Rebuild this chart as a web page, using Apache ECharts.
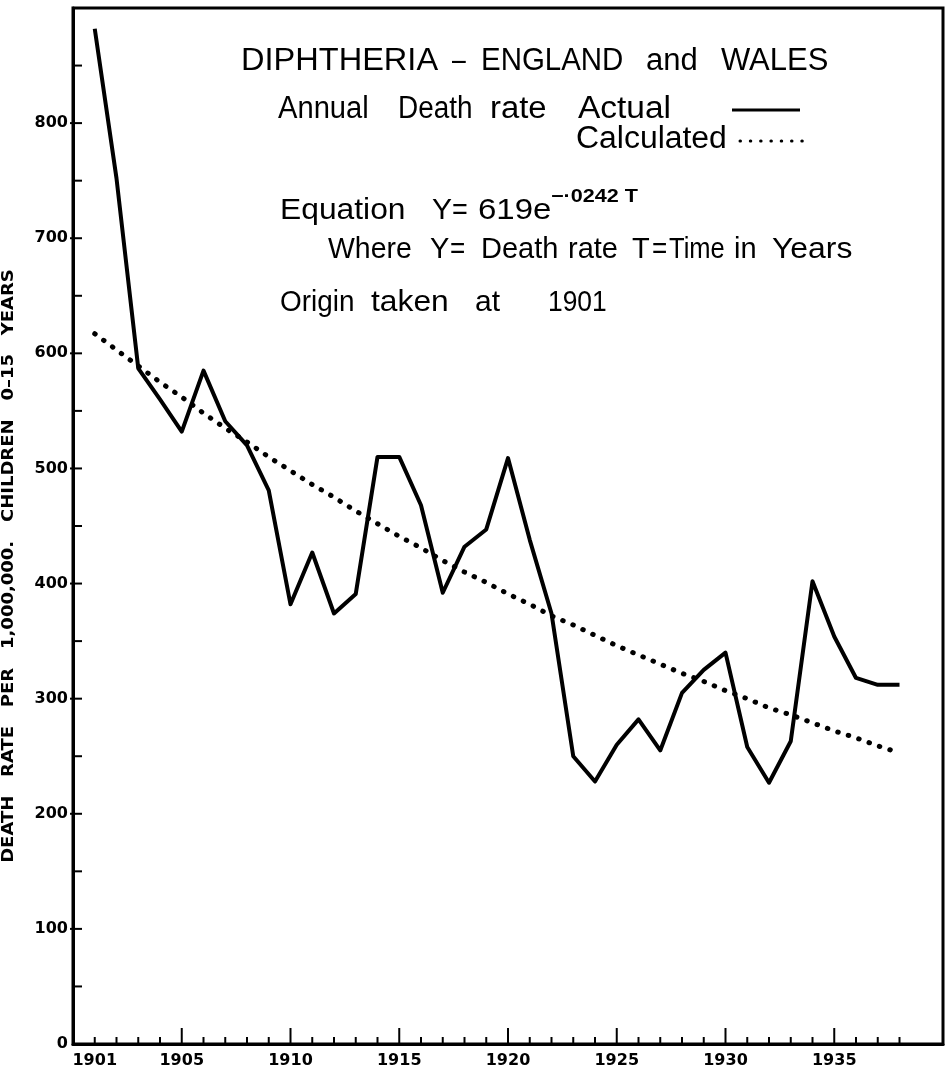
<!DOCTYPE html>
<html><head><meta charset="utf-8">
<script src="https://cdn.jsdelivr.net/npm/echarts@6/dist/echarts.min.js"></script>
<style>html,body{margin:0;padding:0;background:#fff}#c{width:947px;height:1072px}</style>
</head><body><div id="c"></div>
<script>
// ---- data ----
const years = [1901,1902,1903,1904,1905,1906,1907,1908,1909,1910,1911,1912,1913,1914,1915,1916,1917,1918,1919,1920,1921,1922,1923,1924,1925,1926,1927,1928,1929,1930,1931,1932,1933,1934,1935,1936,1937,1938];
const actualRate = [882,752,587,560,532,585,541,520,481,382,427,374,391,510,510,468,392,432,447,509,438,374,250,228,260,282,255,305,325,340,258,227,263,402,354,318,312,312];
const calculatedRate = [617,603,589,575,562,548,535,523,510,498,486,475,463,452,441,431,420,410,401,391,382,372,364,355,346,338,330,322,315,307,300,292,286,279,272,266,259,253];
const xLabelYears = [1901,1905,1910,1915,1920,1925,1930,1935];
const majorTickYears = [1905,1910,1915,1920,1925,1930,1935];
const yLabelValues = [0,100,200,300,400,500,600,700,800];
const yTickValues = [50,100,150,200,250,300,350,400,450,500,550,600,650,700,750,800,850];
const yAxisTitle = 'DEATH   RATE   PER   1,000,000.   CHILDREN   0–15   YEARS';

// annotation words: [text, left x, horizontal scale]
const titleWords = [['DIPHTHERIA',241,1.05],['–',452,0.8],['ENGLAND',481,0.95],['and',646,1.0],['WALES',721,1.0]];
const line2Words = [['Annual',278,0.94],['Death',398,0.9],['rate',490,1.06],['Actual',578,1.08]];
const line3Words = [['Calculated',576,1.03]];
const eqWords = [['Equation',280,1.06],['Y',432,1.0],['=',452,0.9],['619e',478,1.1]];
const whereWords = [['Where',328,0.98],['Y',430,1.0],['=',450,0.9],['Death',481,1.0],['rate',568,1.0],['T',632,1.0],['=',652,0.9],['Time',669,0.88],['in',734,1.0],['Years',772,1.1]];
const originWords = [['Origin',280,0.93],['taken',371,1.06],['at',475,1.0],['1901',548,0.88]];

const FONT = '"Liberation Sans", Arial, sans-serif';
function words(list, y, size) {
  return list.map(([t, x, s]) => ({
    type: 'text', x: x, y: y, scaleX: s, silent: true,
    style: { text: t, font: size + 'px ' + FONT, fill: '#000', align: 'left', verticalAlign: 'middle' }
  }));
}

const chart = echarts.init(document.getElementById('c'), null, { renderer: 'canvas' });
const graphics = [].concat(
  words(titleWords, 61, 31),
  words(line2Words, 109, 31),
  words(line3Words, 139, 31),
  words(eqWords, 211, 30),
  words(whereWords, 250, 29),
  words(originWords, 303, 30),
  [
    { type: 'text', x: 551, y: 197, scaleX: 1.2, silent: true,
      style: { text: '−·0242 T', font: 'bold 18px ' + FONT, fill: '#000', align: 'left', verticalAlign: 'middle' } },
    { type: 'line', silent: true, shape: { x1: 732, y1: 110, x2: 800, y2: 110 },
      style: { stroke: '#000', lineWidth: 3 } },
    { type: 'line', silent: true, shape: { x1: 740, y1: 141, x2: 803, y2: 141 },
      style: { stroke: '#000', lineWidth: 3, lineDash: [0.5, 9.8], lineCap: 'round' } },
    { type: 'text', x: 9, y: 566, rotation: Math.PI / 2, scaleX: 1.2, silent: true,
      style: { text: yAxisTitle, font: 'bold 15px "DejaVu Sans", sans-serif', fill: '#000', align: 'center', verticalAlign: 'middle' } }
  ]
);

const LABEL_FONT = '"DejaVu Sans", sans-serif';
chart.setOption({
  animation: false,
  backgroundColor: '#fff',
  grid: { left: 73, right: 4, top: 8, bottom: 28, show: true, borderColor: '#000', borderWidth: 3, containLabel: false },
  xAxis: {
    type: 'value', min: 1900, max: 1940, interval: 1,
    axisLine: { show: true, lineStyle: { color: '#000', width: 3 } },
    axisTick: { show: false },
    axisLabel: { formatter: v => (xLabelYears.includes(v) ? String(v) : ''), fontFamily: LABEL_FONT, fontWeight: 'bold', fontSize: 16, color: '#000', margin: 9 },
    splitLine: { show: false }
  },
  yAxis: {
    type: 'value', min: 0, max: 900, interval: 100,
    axisLine: { show: true, lineStyle: { color: '#000', width: 3 } },
    axisTick: { show: false },
    axisLabel: { formatter: v => (yLabelValues.includes(v) ? String(v) : ''), fontFamily: LABEL_FONT, fontWeight: 'bold', fontSize: 16, color: '#000', margin: 5 },
    splitLine: { show: false }
  },
  series: [
    { name: 'Actual', type: 'line', data: years.map((y, i) => [y, actualRate[i]]), symbol: 'none', smooth: false,
      lineStyle: { color: '#000', width: 4, join: 'round' }, z: 3 },
    { name: 'Calculated', type: 'line', data: years.map((y, i) => [y, calculatedRate[i]]), symbol: 'none', smooth: false,
      lineStyle: { color: '#000', width: 5, type: [0.5, 10.5], cap: 'round' }, z: 2 }
  ]
});

// tick marks pointing into the plot, positioned through the chart's own scales
const tickStyle = { stroke: '#000', lineWidth: 2 };
const leftX = chart.convertToPixel({ xAxisIndex: 0 }, 1900);
const bottomY = chart.convertToPixel({ yAxisIndex: 0 }, 0);
const ticks = [];
years.forEach(yr => {
  const px = chart.convertToPixel({ xAxisIndex: 0 }, yr);
  const len = majorTickYears.includes(yr) ? 16 : 7;
  ticks.push({ type: 'line', silent: true, z: 5, shape: { x1: px, y1: bottomY, x2: px, y2: bottomY - len }, style: tickStyle });
});
yTickValues.forEach(v => {
  const py = chart.convertToPixel({ yAxisIndex: 0 }, v);
  const major = v % 100 === 0;
  ticks.push({ type: 'line', silent: true, z: 5, shape: { x1: major ? leftX - 3 : leftX, y1: py, x2: leftX + 9, y2: py }, style: tickStyle });
});
chart.setOption({ graphic: graphics.concat(ticks) });
</script></body></html>
